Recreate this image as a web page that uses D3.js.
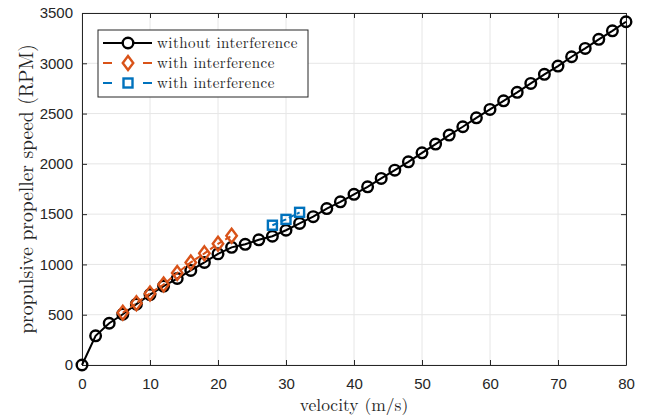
<!DOCTYPE html>
<html><head><meta charset="utf-8">
<script src="https://cdn.jsdelivr.net/npm/d3@7"></script>
<style>body{margin:0;background:#fff}svg{display:block}</style>
</head><body>
<script>
const velocity = [0,2,4,6,8,10,12,14,16,18,20,22,24,26,28,30,32,34,36,38,40,42,44,46,48,50,52,54,56,58,60,62,64,66,68,70,72,74,76,78,80];
const speedNoInterf = [0,290,415,505,605,700,785,860,940,1020,1105,1170,1200,1245,1280,1340,1408,1475,1555,1622,1697,1772,1855,1937,2020,2110,2197,2286,2369,2458,2541,2627,2711,2800,2890,2972,3065,3148,3238,3323,3413];
const velocityOrange = [6,8,10,12,14,16,18,20,22];
const speedOrange = [520,615,712,800,915,1020,1110,1205,1285];
const velocityBlue = [28,30,32];
const speedBlue = [1390,1448,1518];
const xTicks = [0,10,20,30,40,50,60,70,80];
const yTicks = [0,500,1000,1500,2000,2500,3000,3500];
const legendLabels = ["without interference","with interference","with interference"];

const W=646,H=419;
const L=82,R=626,T=13,B=365;
const svg=d3.select("body").append("svg").attr("width",W).attr("height",H);
const x=d3.scaleLinear().domain([0,80]).range([L,R]);
const y=d3.scaleLinear().domain([0,3500]).range([B,T]);
const axisCol="#262626", gridCol="#e6e6e6";
const orange="#D95319", blue="#0072BD";

// grid
svg.append("g").selectAll("line").data(xTicks).join("line")
  .attr("x1",d=>x(d)).attr("x2",d=>x(d)).attr("y1",T).attr("y2",B)
  .attr("stroke",gridCol).attr("stroke-width",1);
svg.append("g").selectAll("line").data(yTicks).join("line")
  .attr("x1",L).attr("x2",R).attr("y1",d=>y(d)).attr("y2",d=>y(d))
  .attr("stroke",gridCol).attr("stroke-width",1);

// axes
const fontTick="'Liberation Sans', Arial, sans-serif";
const fmt=d3.format("d");
const xa=svg.append("g").attr("transform",`translate(0,${B})`)
  .call(d3.axisBottom(x).tickValues(xTicks).tickFormat(fmt).tickSizeInner(-5).tickSizeOuter(0).tickPadding(13));
const ya=svg.append("g").attr("transform",`translate(${L},0)`)
  .call(d3.axisLeft(y).tickValues(yTicks).tickFormat(fmt).tickSizeInner(-5).tickSizeOuter(0).tickPadding(9));
const xt=svg.append("g").attr("transform",`translate(0,${T})`)
  .call(d3.axisTop(x).tickValues(xTicks).tickSizeInner(-5).tickSizeOuter(0).tickFormat(""));
const yr=svg.append("g").attr("transform",`translate(${R},0)`)
  .call(d3.axisRight(y).tickValues(yTicks).tickSizeInner(-5).tickSizeOuter(0).tickFormat(""));
[xa,ya,xt,yr].forEach(g=>{
  g.select(".domain").attr("stroke",axisCol).attr("stroke-width",1);
  g.selectAll(".tick line").attr("stroke",axisCol);
  g.selectAll("text").attr("fill",axisCol).style("font-family",fontTick).style("font-size","15px");
});

// series
const pts=(xs,ys)=>xs.map((v,i)=>[v,ys[i]]);
const line=d3.line().x(d=>x(d[0])).y(d=>y(d[1]));
const black=pts(velocity,speedNoInterf), or=pts(velocityOrange,speedOrange), bl=pts(velocityBlue,speedBlue);

svg.append("path").datum(black).attr("d",line).attr("fill","none").attr("stroke","#000").attr("stroke-width",2);
svg.append("g").selectAll("circle").data(black).join("circle")
  .attr("cx",d=>x(d[0])).attr("cy",d=>y(d[1])).attr("r",5.3)
  .attr("fill","none").attr("stroke","#000").attr("stroke-width",2.4);

svg.append("path").datum(or).attr("d",line).attr("fill","none").attr("stroke",orange).attr("stroke-width",2).attr("stroke-dasharray","6,3");
const diamond=(cx,cy,s)=>`M${cx},${cy-s}L${cx+s*0.75},${cy}L${cx},${cy+s}L${cx-s*0.75},${cy}Z`;
svg.append("g").selectAll("path").data(or).join("path")
  .attr("d",d=>diamond(x(d[0]),y(d[1]),7))
  .attr("fill","none").attr("stroke",orange).attr("stroke-width",2.4);

svg.append("path").datum(bl).attr("d",line).attr("fill","none").attr("stroke",blue).attr("stroke-width",2).attr("stroke-dasharray","6,3");
svg.append("g").selectAll("rect").data(bl).join("rect")
  .attr("x",d=>x(d[0])-4.5).attr("y",d=>y(d[1])-4.5).attr("width",9).attr("height",9)
  .attr("fill","none").attr("stroke",blue).attr("stroke-width",2.4);

// axis labels
const serif="'Latin Modern Roman','CMU Serif','DejaVu Serif', serif";
svg.append("text").attr("x",(L+R)/2).attr("y",411).attr("text-anchor","middle")
  .style("font-family",serif).style("font-size","17.5px").attr("fill",axisCol).text("velocity (m/s)");
svg.append("text").attr("transform",`translate(26,${(T+B)/2}) rotate(-90)`).attr("text-anchor","middle")
  .attr("dy","0.35em")
  .style("font-family",serif).style("font-size","19.5px").attr("fill",axisCol).text("propulsive propeller speed (RPM)");

// legend
const lg=svg.append("g");
lg.append("rect").attr("x",98).attr("y",30).attr("width",210).attr("height",67)
  .attr("fill","#fff").attr("stroke",axisCol).attr("stroke-width",1);
const rows=[43,63,83];
const cols=["#000",orange,blue];
rows.forEach((ry,i)=>{
  const ln=lg.append("line").attr("x1",103).attr("x2",152).attr("y1",ry).attr("y2",ry)
    .attr("stroke",cols[i]).attr("stroke-width",2);
  if(i>0) ln.attr("stroke-dasharray","9,31");
  if(i===0) lg.append("circle").attr("cx",128).attr("cy",ry).attr("r",5.3).attr("fill","#fff").attr("stroke","#000").attr("stroke-width",2.4);
  if(i===1) lg.append("path").attr("d",diamond(128,ry,7)).attr("fill","#fff").attr("stroke",orange).attr("stroke-width",2.4);
  if(i===2) lg.append("rect").attr("x",123.5).attr("y",ry-4.5).attr("width",9).attr("height",9).attr("fill","#fff").attr("stroke",blue).attr("stroke-width",2.4);
  lg.append("text").attr("x",157).attr("y",ry).attr("dy","0.33em")
    .style("font-family",serif).style("font-size","15px").style("letter-spacing","0.45px").attr("fill",axisCol).text(legendLabels[i]);
});
</script>
</body></html>
